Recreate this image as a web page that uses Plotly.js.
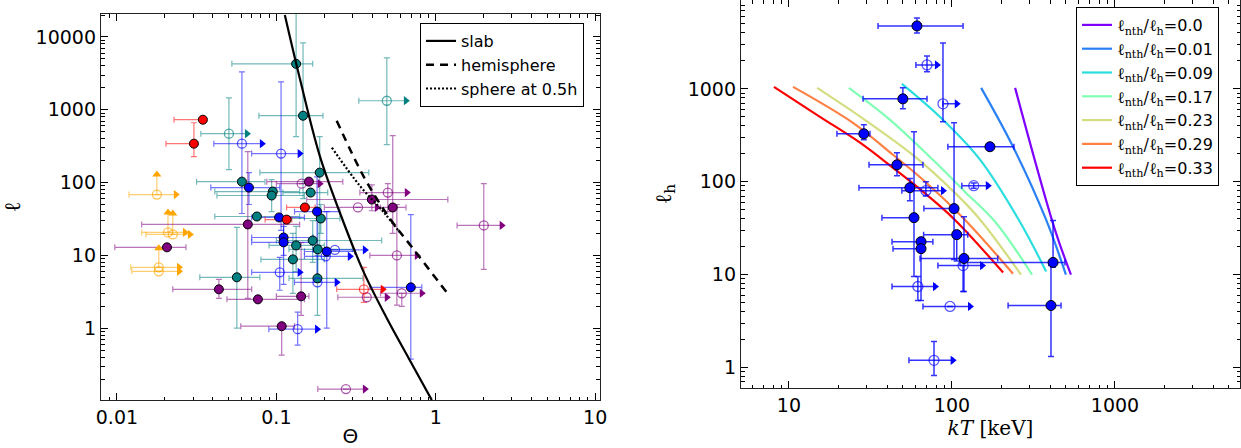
<!DOCTYPE html>
<html><head><meta charset="utf-8">
<script src="https://cdn.plot.ly/plotly-3.0.1.min.js"></script>
<style>html,body{margin:0;padding:0;background:#fff}#chart{width:1241px;height:448px}</style>
</head><body><div id="chart"></div>
<script>
// ---------- LEFT PANEL: rows = [Theta, ell, ThetaLow, ThetaHigh, ellLow, ellHigh]
const orangeOpen = [
  [0.0178, 68.5, 0.0119, 0.0234, 68.5, 129],
  [0.0209, 20.7, 0.0143, 0.0267, 20.7, 38.8],
  [0.0224, 19.4, 0.0152, 0.0287, 19.4, 37.6],
  [0.0183, 6.85, 0.0122, 0.0245, 6.85, 12.5],
  [0.0183, 6.04, 0.0124, 0.0245, 6.04, 6.04]
];
const redFilled = [
  [0.0346, 730, 0.0228, 0.0346, 730, 730],
  [0.0304, 342, 0.0203, 0.0304, 227, 663],
  [0.116, 31.0, 0.085, 0.125, 31.0, 31.0],
  [0.151, 45.5, 0.116, 0.175, 45.5, 45.5]
];
const redOpen = [
  [0.354, 3.42, 0.239, 0.465, 2.27, 6.85]
];
const tealFilled = [
  [0.133, 4270, 0.0526, 0.169, 427, 30000],
  [0.147, 828, 0.0777, 0.196, 60, 8280],
  [0.0608, 103, 0.0316, 0.0848, 103, 103],
  [0.095, 75.3, 0.0411, 0.140, 75.3, 75.3],
  [0.0934, 66.4, 0.0424, 0.150, 40, 110],
  [0.187, 137, 0.0788, 0.380, 11.7, 427],
  [0.164, 72.9, 0.110, 0.210, 72.9, 72.9],
  [0.190, 32.1, 0.120, 0.250, 20, 50],
  [0.0755, 34.2, 0.0411, 0.140, 34.2, 34.2],
  [0.133, 13.7, 0.090, 0.200, 6, 25],
  [0.127, 8.81, 0.080, 0.200, 3, 20],
  [0.0565, 5.0, 0.0331, 0.0788, 1.0, 24.2],
  [0.182, 12.1, 0.120, 0.300, 5, 30],
  [0.169, 16.0, 0.100, 0.458, 8, 30],
  [0.181, 4.84, 0.120, 0.349, 1.5, 10]
];
const tealOpen = [
  [0.0504, 469, 0.0336, 0.0654, 151, 1460],
  [0.493, 1330, 0.329, 0.649, 332, 5150]
];
const blueFilled = [
  [0.0673, 85.4, 0.0388, 0.105, 50, 137],
  [0.104, 33.2, 0.070, 0.150, 33.2, 33.2],
  [0.111, 17.6, 0.070, 0.170, 10, 30],
  [0.111, 15.1, 0.070, 0.170, 4, 25],
  [0.180, 40.0, 0.130, 0.250, 5, 120],
  [0.207, 11.3, 0.150, 0.310, 1.0, 40],
  [0.697, 3.64, 0.386, 0.817, 0.376, 36.4]
];
const blueOpen = [
  [0.0608, 342, 0.0405, 0.0811, 37.6, 3320],
  [0.107, 250, 0.0700, 0.140, 22, 2420],
  [0.105, 5.85, 0.0700, 0.140, 3.32, 9.4],
  [0.136, 0.97, 0.0897, 0.180, 0.585, 1.66],
  [0.233, 11.9, 0.170, 0.359, 11.9, 11.9],
  [0.204, 9.7, 0.150, 0.289, 9.7, 9.7],
  [0.181, 4.27, 0.130, 0.239, 4.27, 4.27]
];
const purpleFilled = [
  [0.160, 103, 0.0871, 0.261, 103, 103],
  [0.397, 58.5, 0.155, 1.19, 41, 93],
  [0.537, 45.5, 0.450, 0.650, 20, 440],
  [0.0662, 26.6, 0.0143, 0.140, 2.57, 266],
  [0.0206, 12.9, 0.0097, 0.0271, 12.9, 12.9],
  [0.0436, 3.42, 0.0224, 0.0700, 2.57, 4.69],
  [0.0766, 2.49, 0.049, 0.150, 2.49, 2.49],
  [0.143, 2.74, 0.100, 0.160, 1.5, 15],
  [0.108, 1.065, 0.0598, 0.130, 0.427, 1.065]
];
const purpleOpen = [
  [0.144, 96.7, 0.100, 0.187, 96.7, 96.7],
  [0.500, 72.9, 0.334, 0.658, 40, 96.7],
  [0.325, 45.5, 0.200, 0.427, 45.5, 45.5],
  [2.0, 25.8, 1.36, 2.59, 6.43, 96.7],
  [0.570, 10.0, 0.386, 0.760, 2.07, 50],
  [0.369, 2.66, 0.243, 0.493, 2.66, 2.66],
  [0.612, 3.02, 0.450, 0.817, 2.0, 3.02],
  [0.273, 0.146, 0.182, 0.359, 0.146, 0.146]
];
const slabTheta = [0.113, 0.140, 0.187, 0.250, 0.349, 0.493, 0.687, 0.944];
const slabEll = [20000, 2743, 234, 38.8, 6.23, 1.37, 0.364, 0.103];
const hemiTheta = [0.239, 0.359, 0.515, 0.718, 1.17];
const hemiEll = [707, 113, 32.1, 12.5, 3.11];
const sphereTheta = [0.223, 0.333, 0.479, 0.594];
const sphereEll = [301, 91, 37.6, 20.7];
const leftXTicks = [0.01, 0.1, 1, 10];
const leftXTickText = ['0.01', '0.1', '1', '10'];
const leftYTicks = [1, 10, 100, 1000, 10000];
const leftYTickText = ['1', '10', '100', '1000', '10000'];

// ---------- RIGHT PANEL: rows = [kT, ell_h, kTLow, kTHigh, ellLow, ellHigh]
const kTFilled = [
  [61.0, 4760, 35.2, 117, 4000, 5800],
  [50.0, 780, 28.5, 70.3, 609, 1025],
  [28.8, 328, 19.7, 31.4, 283, 410],
  [46.0, 152, 31.0, 66.4, 116, 205],
  [55.2, 86.2, 26.9, 82.0, 62.5, 108],
  [58.5, 41.0, 37.2, 58.5, 9.52, 345],
  [64.6, 22.6, 42.9, 76.4, 22.6, 22.6],
  [64.6, 19.0, 43.5, 64.6, 5.25, 19.0],
  [103, 51.3, 67.3, 103, 14.5, 431],
  [107, 26.9, 67.0, 125, 14.0, 26.9],
  [118.5, 14.9, 63.7, 191, 6.57, 41.8],
  [171, 238, 94.4, 240, 238, 238],
  [417, 13.5, 112, 493, 12.0, 38.2],
  [405, 4.64, 221, 467, 1.31, 12.5]
];
const kTOpen = [
  [70.3, 1811, 60.1, 80.9, 1524, 2264],
  [88.1, 690, 88.1, 107, 442, 3124],
  [136, 90.6, 115, 166, 85, 97],
  [69.2, 80.0, 49.3, 88.1, 70, 100],
  [117, 12.5, 82.0, 153, 6.57, 12.5],
  [61.8, 7.43, 42.9, 78.7, 5.25, 9.52],
  [97.3, 4.53, 66.4, 129, 4.53, 4.53],
  [77.6, 1.19, 54.5, 101, 0.82, 1.90]
];
const ratioLabels = ['0.0', '0.01', '0.09', '0.17', '0.23', '0.29', '0.33'];
const curveKT = [
  [244, 428, 537],
  [151, 237, 378, 500],
  [49.3, 84.3, 149, 261, 378],
  [23.3, 41.7, 76.4, 120, 184, 310],
  [14.9, 29.2, 59.3, 104, 149, 265],
  [10.6, 24.7, 43.5, 66.4, 120, 237],
  [8.09, 15.5, 27.3, 43.5, 66.4, 104, 206]
];
const curveEll = [
  [1025, 30.5, 10],
  [1025, 238, 39.0, 10],
  [1132, 500, 172, 37.1, 10.8],
  [1025, 464, 172, 78.1, 37.1, 10],
  [1025, 464, 186, 76.2, 39.0, 10],
  [1051, 431, 195, 105, 39.0, 10.2],
  [1051, 500, 263, 141, 78.1, 39.0, 10.5]
];
const rightXTicks = [10, 100, 1000];
const rightXTickText = ['10', '100', '1000'];
const rightYTicks = [1, 10, 100, 1000];
const rightYTickText = ['1', '10', '100', '1000'];

// ---------- styling
const COL = {orange: '255,165,0', red: '255,0,0', teal: '0,128,128', blue: '0,0,255', purple: '128,0,128'};
const curveColors = ['#8000ff', '#2a80f6', '#2addde', '#80ffb4', '#d4dd80', '#ff8042', '#ff0000'];
const rgba = (c, a) => `rgba(${c},${a})`;
const FONT = 'DejaVu Sans';

function errTrace(rows, col, alpha, xa, ya, thick) {
  return {type: 'scatter', mode: 'markers', xaxis: xa, yaxis: ya,
    x: rows.map(r => r[0]), y: rows.map(r => r[1]),
    marker: {size: 2, opacity: 0}, showlegend: false, hoverinfo: 'skip',
    error_x: {type: 'data', symmetric: false, array: rows.map(r => r[3] - r[0]), arrayminus: rows.map(r => r[0] - r[2]),
      color: rgba(col, alpha), thickness: thick, width: 3},
    error_y: {type: 'data', symmetric: false, array: rows.map(r => r[5] - r[1]), arrayminus: rows.map(r => r[1] - r[4]),
      color: rgba(col, alpha), thickness: thick, width: 3}};
}
function markTrace(rows, col, filled, xa, ya, size) {
  return {type: 'scatter', mode: 'markers', xaxis: xa, yaxis: ya, showlegend: false, hoverinfo: 'skip',
    x: rows.map(r => r[0]), y: rows.map(r => r[1]),
    marker: filled ? {symbol: 'circle', size: size, color: rgba(col, 1), line: {color: '#000', width: 1}}
                   : {symbol: 'circle-open', size: size, color: rgba(col, 0.65), line: {width: 1.3}}};
}
function rightArrows(rows, col, xa, ya) {
  return {type: 'scatter', mode: 'markers', xaxis: xa, yaxis: ya, showlegend: false, hoverinfo: 'skip',
    x: rows.map(r => r[3]), y: rows.map(r => r[1]),
    marker: {symbol: 'triangle-right', size: 8, color: rgba(col, 1), line: {width: 0}}};
}
function upArrows(rows, col, xa, ya) {
  const up = rows.filter(r => r[5] > r[1]);
  return {type: 'scatter', mode: 'markers', xaxis: xa, yaxis: ya, showlegend: false, hoverinfo: 'skip',
    x: up.map(r => r[0]), y: up.map(r => r[5]),
    marker: {symbol: 'triangle-up', size: 8, color: rgba(col, 1), line: {width: 0}}};
}

const traces = [];
const leftGroups = [
  [orangeOpen, COL.orange, false], [tealFilled, COL.teal, true], [tealOpen, COL.teal, false],
  [blueFilled, COL.blue, true], [blueOpen, COL.blue, false], [purpleFilled, COL.purple, true],
  [purpleOpen, COL.purple, false], [redFilled, COL.red, true], [redOpen, COL.red, false]
];
leftGroups.forEach(g => traces.push(errTrace(g[0], g[1], 0.55, 'x', 'y', 1.2)));
leftGroups.filter(g => !g[2]).forEach(g => traces.push(rightArrows(g[0], g[1], 'x', 'y')));
traces.push(upArrows(orangeOpen, COL.orange, 'x', 'y'));
leftGroups.forEach(g => traces.push(markTrace(g[0], g[1], g[2], 'x', 'y', 9)));

traces.push({type: 'scatter', mode: 'lines', name: 'slab', x: slabTheta, y: slabEll, xaxis: 'x', yaxis: 'y',
  line: {color: '#000', width: 2.2, shape: 'spline', smoothing: 1}, legend: 'legend', hoverinfo: 'skip'});
traces.push({type: 'scatter', mode: 'lines', name: 'hemisphere', x: hemiTheta, y: hemiEll, xaxis: 'x', yaxis: 'y',
  line: {color: '#000', width: 2.5, dash: '8px,6px', shape: 'spline'}, legend: 'legend', hoverinfo: 'skip'});
traces.push({type: 'scatter', mode: 'lines', name: 'sphere at 0.5h', x: sphereTheta, y: sphereEll, xaxis: 'x', yaxis: 'y',
  line: {color: '#000', width: 2.2, dash: '2px,2px', shape: 'spline'}, legend: 'legend', hoverinfo: 'skip'});

ratioLabels.forEach((lab, i) => traces.push({type: 'scatter', mode: 'lines', xaxis: 'x2', yaxis: 'y2',
  name: '<span style="font-family:DejaVu Serif">ℓ<sub>nth</sub>/ℓ<sub>h</sub></span>=' + lab,
  x: curveKT[i], y: curveEll[i], line: {color: curveColors[i], width: 2.2, shape: 'spline', smoothing: 1},
  legend: 'legend2', hoverinfo: 'skip'}));

traces.push(errTrace(kTFilled, COL.blue, 0.8, 'x2', 'y2', 1.5));
traces.push(errTrace(kTOpen, COL.blue, 0.8, 'x2', 'y2', 1.5));
traces.push(rightArrows(kTOpen, COL.blue, 'x2', 'y2'));
traces.push(markTrace(kTOpen, COL.blue, false, 'x2', 'y2', 10));
traces.push(markTrace(kTFilled, COL.blue, true, 'x2', 'y2', 10));

function axis(extra) {
  return Object.assign({type: 'log', ticks: 'inside', ticklen: 7, tickwidth: 1, tickcolor: '#000',
    showline: true, linecolor: '#222', linewidth: 1.2, mirror: 'ticks', showgrid: false, zeroline: false,
    tickfont: {family: FONT, size: 19, color: '#000'},
    minor: {ticks: 'inside', ticklen: 3.5, tickcolor: '#000', tickwidth: 1, showgrid: false, dtick: 'D1'}}, extra);
}

const layout = {
  width: 1241, height: 448, margin: {l: 101, r: 1, t: 0, b: 48},
  paper_bgcolor: '#fff', plot_bgcolor: '#fff', showlegend: true,
  xaxis: axis({domain: [0, 0.4381], range: [-2.1, 1.03], tickvals: leftXTicks, ticktext: leftXTickText, anchor: 'y',
    title: {text: 'Θ', font: {family: FONT, size: 20, color: '#000'}, standoff: 8}}),
  yaxis: axis({domain: [0, 0.965], range: [-0.986, 4.315], tickvals: leftYTicks, ticktext: leftYTickText, anchor: 'x',
    title: {text: 'ℓ', font: {family: 'DejaVu Serif', size: 22, color: '#000'}, standoff: 16}}),
  xaxis2: axis({domain: [0.5619, 1], range: [0.706, 3.767], tickvals: rightXTicks, ticktext: rightXTickText, anchor: 'y2',
    title: {text: '<i>kT</i> [keV]', font: {family: 'DejaVu Serif', size: 20, color: '#000'}, standoff: 6}}),
  yaxis2: axis({domain: [0.03, 1], range: [-0.222, 3.957], tickvals: rightYTicks, ticktext: rightYTickText, anchor: 'x2',
    title: {text: 'ℓ<sub>h</sub>', font: {family: 'DejaVu Serif', size: 22, color: '#000'}, standoff: 10}}),
  legend: {x: 0.2801, y: 0.9425, xanchor: 'left', yanchor: 'top', bgcolor: '#fff', bordercolor: '#000', borderwidth: 1,
    font: {family: FONT, size: 16, color: '#000'}, tracegroupgap: 0},
  legend2: {x: 0.856, y: 0.9825, xanchor: 'left', yanchor: 'top', bgcolor: '#fff', bordercolor: '#000', borderwidth: 1,
    font: {family: FONT, size: 16, color: '#000'}, tracegroupgap: 0}
};

Plotly.newPlot('chart', traces, layout, {staticPlot: true, displayModeBar: false});
</script></body></html>
